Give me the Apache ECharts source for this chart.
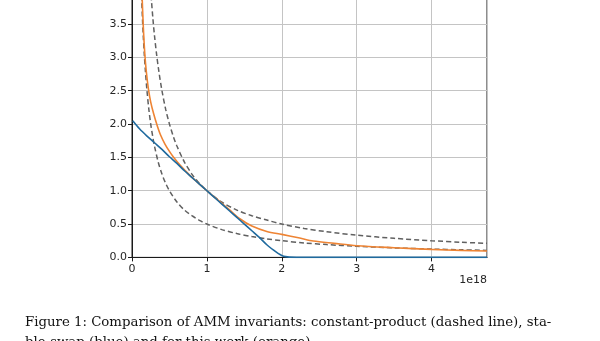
<!DOCTYPE html>
<html>
<head>
<meta charset="utf-8">
<script src="https://cdn.jsdelivr.net/npm/echarts@6/dist/echarts.min.js"></script>
<style>
  html, body { margin: 0; padding: 0; background: #fff; overflow: hidden; width: 600px; height: 341px; position: relative; }
  /* The plot's upper part runs past the top of the page. */
  #chart { position: absolute; left: 0; top: -23px; width: 600px; height: 364px; }
</style>
</head>
<body>
<div id="chart"></div>
<script>
// Reserve x (in units of 1e18) and the matching y for each invariant curve.

// Constant product, k = 1 (upper dashed)
const cpHighX = [0.24, 0.26, 0.28, 0.3, 0.33, 0.36, 0.4, 0.45, 0.5, 0.55, 0.6, 0.7, 0.8, 0.9, 1.0,
                 1.2, 1.4, 1.6, 1.8, 2.0, 2.3, 2.6, 3.0, 3.5, 4.0, 4.4, 4.74];
const cpHighY = [4.17, 3.85, 3.57, 3.33, 3.03, 2.78, 2.5, 2.22, 2.0, 1.82, 1.67, 1.43, 1.25, 1.11, 1.0,
                 0.83, 0.71, 0.625, 0.56, 0.5, 0.435, 0.385, 0.333, 0.286, 0.25, 0.227, 0.211];

// Constant product, k = 0.5 (lower dashed)
const cpLowX = [0.12, 0.13, 0.14, 0.15, 0.165, 0.18, 0.2, 0.225, 0.25, 0.28, 0.3, 0.35, 0.4, 0.45, 0.5,
                0.6, 0.7, 0.8, 0.9, 1.0, 1.2, 1.4, 1.6, 1.8, 2.0, 2.3, 2.6, 3.0, 3.5, 4.0, 4.4, 4.74];
const cpLowY = [4.17, 3.85, 3.57, 3.33, 3.03, 2.78, 2.5, 2.22, 2.0, 1.79, 1.67, 1.43, 1.25, 1.11, 1.0,
                0.83, 0.71, 0.625, 0.556, 0.5, 0.417, 0.357, 0.3125, 0.278, 0.25, 0.217, 0.192, 0.167, 0.143, 0.125, 0.114, 0.105];

// Proposed invariant (orange)
const newX = [0.127, 0.137, 0.15, 0.17, 0.19, 0.22, 0.25, 0.29, 0.33, 0.38, 0.44, 0.5, 0.55, 0.6, 0.65,
              0.7, 0.8, 0.9, 1.0, 1.1, 1.2, 1.3, 1.44, 1.6, 1.8, 2.0, 2.24, 2.42, 2.7, 3.0, 3.5, 4.0, 4.4, 4.74];
const newY = [4.1, 3.85, 3.48, 3.07, 2.8, 2.52, 2.33, 2.15, 2.0, 1.84, 1.70, 1.59, 1.51, 1.44, 1.375,
              1.315, 1.2, 1.1, 1.0, 0.905, 0.81, 0.715, 0.58, 0.47, 0.39, 0.345, 0.29, 0.245, 0.21, 0.175, 0.145, 0.12, 0.105, 0.095];

// Stable-swap invariant (blue)
const ssX = [0.01, 0.1, 0.2, 0.3, 0.4, 0.5, 0.6, 0.7, 0.8, 0.9, 1.0, 1.1, 1.2, 1.3, 1.4, 1.5, 1.6, 1.7,
             1.8, 1.9, 1.95, 2.0, 2.05, 2.1, 2.2, 2.4, 3.0, 4.0, 4.74];
const ssY = [2.05, 1.93, 1.82, 1.72, 1.62, 1.51, 1.41, 1.30, 1.20, 1.10, 1.0, 0.9, 0.8, 0.7, 0.6, 0.5, 0.4, 0.3,
             0.19, 0.1, 0.06, 0.03, 0.012, 0.004, 0.001, 0, 0, 0, 0];

const caption1 = 'Figure 1: Comparison of AMM invariants: constant-product (dashed line), sta-';
const caption2 = 'ble-swap (blue) and for this work (orange).';
const offsetText = '1e18';

const zip = (xs, ys) => xs.map((x, i) => [x, ys[i]]);

// Vertical shift of the chart canvas relative to the page.
const SHIFT = 23;

const chart = echarts.init(document.getElementById('chart'), null, { renderer: 'canvas' });

const labelFont = { fontFamily: 'DejaVu Sans', fontSize: 11, color: '#262626' };

chart.setOption({
  animation: false,
  backgroundColor: '#ffffff',
  grid: {
    left: 132, right: 113, top: 0.4, bottom: 83.6,
    show: true, borderColor: '#1a1a1a', borderWidth: 1, backgroundColor: 'transparent'
  },
  xAxis: {
    type: 'value', min: 0, max: 4.74, interval: 1,
    axisLine: { show: true, onZero: false, lineStyle: { color: '#1a1a1a', width: 1 } },
    axisTick: { show: true, inside: false, length: 4, lineStyle: { color: '#1a1a1a' } },
    axisLabel: Object.assign({ margin: 6, showMaxLabel: false, formatter: v => String(Math.round(v)) }, labelFont),
    splitLine: { show: true, lineStyle: { color: '#c4c4c4', width: 1 } }
  },
  yAxis: {
    type: 'value', min: 0, max: 4.2, interval: 0.5,
    axisLine: { show: true, onZero: false, lineStyle: { color: '#1a1a1a', width: 1 } },
    axisTick: { show: true, inside: false, length: 4, lineStyle: { color: '#1a1a1a' } },
    axisLabel: Object.assign({ margin: 5, showMaxLabel: false, formatter: v => v.toFixed(1) }, labelFont),
    splitLine: { show: true, lineStyle: { color: '#c4c4c4', width: 1 } }
  },
  series: [
    {
      type: 'line', data: zip(cpHighX, cpHighY), showSymbol: false, smooth: 0.3,
      lineStyle: { color: '#606060', width: 1.5, type: [5, 3] }, z: 2
    },
    {
      type: 'line', data: zip(cpLowX, cpLowY), showSymbol: false, smooth: 0.3,
      lineStyle: { color: '#606060', width: 1.5, type: [5, 3] }, z: 2
    },
    {
      type: 'line', data: zip(newX, newY), showSymbol: false, smooth: 0.3,
      lineStyle: { color: '#ee8434', width: 1.6 }, z: 3
    },
    {
      type: 'line', data: zip(ssX, ssY), showSymbol: false, smooth: 0.3,
      lineStyle: { color: '#1f6a9e', width: 1.6 }, z: 4
    }
  ],
  graphic: [
    {
      type: 'text', x: 487, y: 280 + SHIFT,
      style: { text: offsetText, font: '11px "DejaVu Sans"', fill: '#262626', textAlign: 'right', textVerticalAlign: 'middle' }
    },
    {
      type: 'text', x: 25, y: 329.5 + SHIFT,
      style: { text: caption1, font: '13.3px "DejaVu Serif"', fill: '#111111', textAlign: 'left', textVerticalAlign: 'bottom' }
    },
    {
      type: 'text', x: 25, y: 349.5 + SHIFT,
      style: { text: caption2, font: '13.3px "DejaVu Serif"', fill: '#111111', textAlign: 'left', textVerticalAlign: 'bottom' }
    }
  ]
});
</script>
</body>
</html>
